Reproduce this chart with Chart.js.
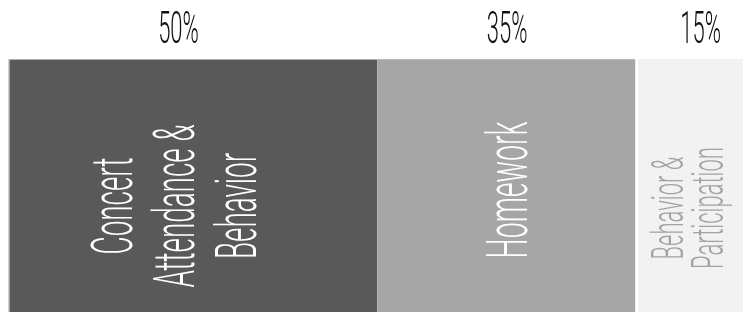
<!DOCTYPE html>
<html><head><meta charset="utf-8">
<script src="https://cdn.jsdelivr.net/npm/chart.js@4/dist/chart.umd.min.js"></script>
<style>
html,body{margin:0;padding:0;overflow:hidden;background:#fff;width:743px;height:312px}
#wrap{position:absolute;left:0;top:0;width:760px;height:350px}
</style></head><body>
<div id="wrap"><canvas id="c" width="760" height="350"></canvas></div>
<script>
const categories = ['Concert\nAttendance &\nBehavior', 'Homework', 'Behavior &\nParticipation'];
const shares = [50, 35, 15];
const shareLabels = ['50%', '35%', '15%'];
const fills = ['#595959', '#a6a6a6', '#f2f2f2'];

const borders = [
  {color:'#cdcdcd', width:{left:2, top:1, right:0, bottom:0}},
  {color:'#bcbcbc', width:{left:1, top:1, right:0, bottom:0}},
  {color:'#ffffff', width:{left:3, top:0, right:0, bottom:0}}
];
// text styling per segment
const textStyle = [
  {size:58, line:62, sx:0.48, color:'#ffffff', dx:-19, dy:3},
  {size:58, line:58, sx:0.49, color:'#ffffff', dx:0, dy:-13},
  {size:44, line:40, sx:0.5, color:'#a3a3a3', dx:-3, dy:5}
];
const pctStyle = {size:44, sx:0.5, baseline:43, offsets:[-14, 1, 10]};
const FONT = 'Roboto';

function drawText(ctx, text, x, y, size, sx, color, rotate, lineH){
  const lines = text.split('\n');
  ctx.save();
  ctx.translate(x, y);
  if (rotate) ctx.rotate(-Math.PI/2);
  ctx.scale(sx, 1);
  ctx.font = '300 ' + size + 'px ' + FONT;
  ctx.fillStyle = color;
  ctx.textAlign = 'center';
  ctx.textBaseline = 'alphabetic';
  const cap = size * 0.711;
  const n = lines.length;
  lines.forEach((ln, i) => {
    const by = (i - (n-1)/2) * (lineH || size) + cap/2;
    ctx.fillText(ln, 0, by);
  });
  ctx.restore();
}

const labelPlugin = {
  id: 'segLabels',
  afterDatasetsDraw(chart){
    const ctx = chart.ctx;
    chart.data.datasets.forEach((ds, i) => {
      const el = chart.getDatasetMeta(i).data[0];
      const left = Math.min(el.base, el.x), right = Math.max(el.base, el.x);
      const cx = (left + right) / 2;
      const ts = textStyle[i];
      drawText(ctx, categories[i], cx + ts.dx, el.y + ts.dy, ts.size, ts.sx, ts.color, true, ts.line);
      ctx.save();
      ctx.translate(cx + pctStyle.offsets[i], pctStyle.baseline);
      ctx.scale(pctStyle.sx, 1);
      ctx.font = '300 ' + pctStyle.size + 'px ' + FONT;
      ctx.fillStyle = '#111111';
      ctx.textAlign = 'center';
      ctx.textBaseline = 'alphabetic';
      ctx.fillText(shareLabels[i], 0, 0);
      ctx.restore();
    });
  }
};

new Chart(document.getElementById('c'), {
  type: 'bar',
  data: {
    labels: ['Grade'],
    datasets: shares.map((v, i) => ({
      label: categories[i].replace(/\n/g, ' '),
      data: [v],
      backgroundColor: fills[i],
      borderColor: borders[i].color,
      borderWidth: borders[i].width,
      borderSkipped: false,
      barPercentage: 1,
      categoryPercentage: 1,
      stack: 's'
    }))
  },
  options: {
    indexAxis: 'y',
    responsive: false,
    animation: false,
    layout: {padding: {left: 8, top: 59, right: 14, bottom: 3}},
    scales: {
      x: {stacked: true, min: 0, max: 100, display: false},
      y: {stacked: true, display: false}
    },
    plugins: {legend: {display: false}, tooltip: {enabled: false}}
  },
  plugins: [labelPlugin]
});
</script>
</body></html>
